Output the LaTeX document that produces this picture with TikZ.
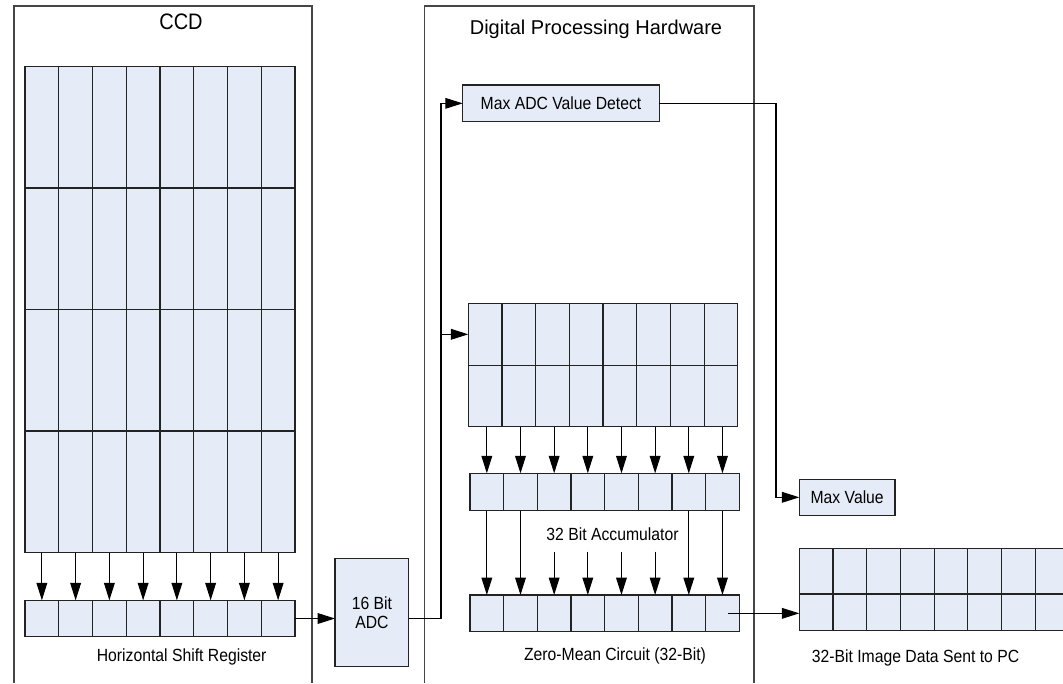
\documentclass[tikz,border=0pt]{standalone}
\usepackage{fontspec}
\usepackage{graphicx}
\setmainfont{Liberation Sans}
\usetikzlibrary{arrows.meta}
\definecolor{cellfill}{RGB}{230,236,247}
\definecolor{edge}{RGB}{35,35,35}
\definecolor{frameline}{RGB}{70,70,70}
% slightly tall lettering
\newcommand\tallt[1]{\scalebox{1}[1.12]{#1}}
\begin{document}
\begin{tikzpicture}[
  x=0.75pt, y=-0.75pt,
  cell/.style={draw=edge, fill=cellfill, line width=0.8pt, inner sep=0pt, outer sep=0pt, anchor=north west},
  box/.style={draw=edge, fill=cellfill, line width=0.8pt, inner sep=0pt, outer sep=0pt, anchor=north west,
              font=\fontsize{11.8}{14.5}\selectfont, align=center},
  conn/.style={draw=black, line width=0.8pt, -{Triangle[length=13pt,width=8pt]}},
  frame/.style={draw=frameline, line width=0.8pt},
  lbl/.style={font=\fontsize{11.8}{14}\selectfont, anchor=base, inner sep=0pt},
  ttl/.style={font=\fontsize{15}{18}\selectfont, anchor=base, inner sep=0pt}
]
\useasboundingbox (0,0) rectangle (1063,683);
\clip (0,0) rectangle (1063,683);

% ---------- enclosing frames (open at the bottom) ----------
\draw[frame] (14,683) -- (14,6) -- (312,6) -- (312,683);
\draw[frame] (424.5,683) -- (424.5,6) -- (754,6) -- (754,683);
\node[ttl] (ccdtitle) at (181,29.7) {\tallt{CCD}};
\node[ttl] (dphtitle) at (596,34.7) {Digital Processing Hardware};

% ---------- CCD pixel array: 4 rows x 8 columns ----------
\foreach \r in {1,...,4}
  \foreach \c in {1,...,8}
    \node[cell, minimum width=25.3125pt, minimum height=91.125pt]
      (ccd-\r-\c) at ({25+(\c-1)*33.75},{66.5+(\r-1)*121.5}) {};

% ---------- horizontal shift register ----------
\foreach \c in {1,...,8}
  \node[cell, minimum width=25.3125pt, minimum height=27.3pt]
    (sr-\c) at ({25+(\c-1)*33.75},600.3) {};
\node[lbl] (srlabel) at (181.7,661.7) {\tallt{Horizontal Shift Register}};

\foreach \c in {1,...,8}
  \draw[conn] (ccd-4-\c.south) -- (sr-\c.north);

% ---------- ADC ----------
\node[box, minimum width=55.3pt, minimum height=81.3pt] (adc) at (335,558.3) {\tallt{16 Bit}\\\tallt{ADC}};
\draw[conn] (sr-8.east) -- (sr-8.east -| adc.west);

% ---------- digital processing ----------
\node[box, minimum width=147.45pt, minimum height=27.5pt] (maxdet) at (462.7,85) {\tallt{Max ADC Value Detect}};

% two-row line buffer
\foreach \c in {1,...,8} {
  \node[cell, minimum width=25.26pt, minimum height=46.5pt]
    (acc-1-\c) at ({468.3+(\c-1)*33.68},303.3) {};
  \node[cell, minimum width=25.26pt, minimum height=46.05pt]
    (acc-2-\c) at ({468.3+(\c-1)*33.68},365.3) {};
}

% accumulator register
\foreach \c in {1,...,8}
  \node[cell, minimum width=25.245pt, minimum height=28.05pt]
    (reg-\c) at ({470+(\c-1)*33.66},473.3) {};
\node[lbl] (acclabel) at (612.5,540) {\tallt{32 Bit Accumulator}};

% zero-mean register
\foreach \c in {1,...,8}
  \node[cell, minimum width=25.245pt, minimum height=27.5pt]
    (zm-\c) at ({470+(\c-1)*33.66},595) {};
\node[lbl] (zmlabel) at (615,660.5) {\tallt{Zero-Mean Circuit (32-Bit)}};

% ADC output bus
\coordinate (busx) at (441,0);
\draw[conn] (sr-8.east -| adc.east) -- (sr-8.east -| busx) |- (maxdet.west);
\draw[conn] (acc-1-1.west -| busx) -- (acc-1-1.west);

\foreach \c in {1,...,8}
  \draw[conn] (reg-\c.north |- acc-2-\c.south) -- (reg-\c.north);

\coordinate (accbase) at (0,551.7);
\foreach \c in {1,2,7,8}
  \draw[conn] (reg-\c.south) -- (zm-\c.north);
\foreach \c in {3,...,6}
  \draw[conn] (zm-\c.north |- accbase) -- (zm-\c.north);

% ---------- outputs ----------
\node[box, minimum width=71.775pt, minimum height=27pt] (maxval) at (799.3,479.3) {\tallt{Max Value}};
\coordinate (turn) at (776,0);
\draw[conn] (maxdet.east) -- (maxdet.east -| turn) |- (maxval.west);

\foreach \c in {1,...,8} {
  \node[cell, minimum width=25.275pt, minimum height=34.275pt]
    (data-1-\c) at ({799.3+(\c-1)*33.7},548.3) {};
  \node[cell, minimum width=25.275pt, minimum height=27.525pt]
    (data-2-\c) at ({799.3+(\c-1)*33.7},594) {};
}
\node[lbl] (datalabel) at (915.5,662.7) {\tallt{32-Bit Image Data Sent to PC}};

\draw[conn] ([xshift=4.5pt]zm-8.center) -- (zm-8.center -| data-2-1.west);
\end{tikzpicture}
\end{document}
